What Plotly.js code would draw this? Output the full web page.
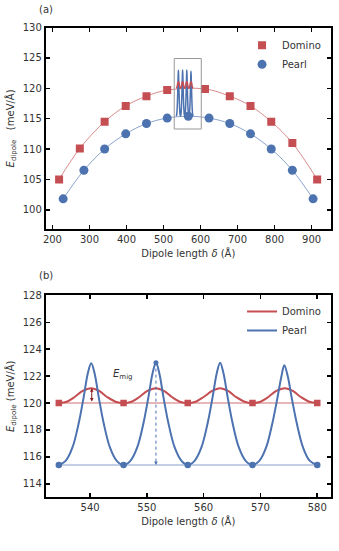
<!DOCTYPE html>
<html>
<head>
<meta charset="utf-8">
<script src="https://cdn.plot.ly/plotly-3.0.1.min.js"></script>
<style>
  html, body { margin: 0; padding: 0; background: #fff; }
  #chart { width: 339px; height: 551px; }
</style>
</head>
<body>
<div id="chart"></div>
<script>
// (a) full sweep of dipole lengths
const dominoLen = [218, 274, 341, 398, 454, 510, 612, 679, 735, 791, 848, 915];
const dominoE   = [105.0, 110.1, 114.5, 117.1, 118.7, 119.7, 119.9, 118.7, 117.1, 114.5, 111.0, 105.0];
const pearlLen  = [229, 285, 341, 398, 454, 510, 567, 623, 679, 735, 791, 848, 904];
const pearlE    = [101.8, 106.5, 110.0, 112.5, 114.2, 115.1, 115.4, 115.1, 114.2, 112.5, 110.0, 106.5, 101.8];

// (b) zoom on the migration between neighbouring minima
const minLen        = [534.5, 545.9, 557.2, 568.6, 580.0];
const dominoMinE    = [120.0, 120.0, 120.0, 120.0, 120.0];
const pearlMinE     = [115.4, 115.4, 115.4, 115.4, 115.4];

const dominoPathLen = [534.5, 535.9, 537.3, 538.7, 540.2, 541.6, 543.0, 544.5, 545.9,
                       547.3, 548.7, 550.1, 551.6, 553.0, 554.4, 555.8, 557.2,
                       558.6, 560.0, 561.5, 562.9, 564.3, 565.7, 567.2, 568.6,
                       570.0, 571.4, 572.8, 574.3, 575.7, 577.1, 578.6, 580.0];
const dominoPathE   = [120.0, 120.1, 120.45, 120.9, 121.1, 120.9, 120.45, 120.1, 120.0,
                       120.1, 120.45, 120.9, 121.1, 120.9, 120.45, 120.1, 120.0,
                       120.1, 120.45, 120.9, 121.1, 120.9, 120.45, 120.1, 120.0,
                       120.1, 120.45, 120.9, 121.1, 120.9, 120.45, 120.1, 120.0];

const pearlPathLen  = [534.5, 535.7, 536.9, 538.0, 538.9, 539.6, 540.2, 540.8, 541.5, 542.4, 543.5, 544.7, 545.9,
                       547.1, 548.3, 549.4, 550.3, 551.0, 551.6, 552.2, 552.9, 553.8, 554.9, 556.1, 557.2,
                       558.4, 559.6, 560.7, 561.6, 562.3, 562.9, 563.5, 564.2, 565.1, 566.2, 567.4, 568.6,
                       569.8, 571.0, 572.1, 573.0, 573.7, 574.2, 574.8, 575.5, 576.4, 577.5, 578.7, 580.0];
const pearlPathE    = [115.4, 115.7, 116.7, 118.5, 120.5, 122.2, 122.95, 122.2, 120.5, 118.5, 116.7, 115.7, 115.4,
                       115.7, 116.7, 118.5, 120.5, 122.2, 123.0, 122.2, 120.5, 118.5, 116.7, 115.7, 115.4,
                       115.7, 116.7, 118.5, 120.5, 122.2, 123.0, 122.2, 120.5, 118.5, 116.7, 115.7, 115.4,
                       115.7, 116.7, 118.5, 120.4, 122.0, 122.8, 122.0, 120.4, 118.5, 116.7, 115.7, 115.4];

const migDomino = [540.3, 120.0, 121.1];  // x, from, to
const migPearl  = [551.6, 123.0, 115.4];
const zoomBox   = [529, 602, 113.3, 124.9];

const RED = '#C44E52', BLUE = '#4C72B0';
const FONT = 'DejaVu Sans, sans-serif';

const traces = [
  // (a) smooth guides
  { x: dominoLen, y: dominoE, xaxis: 'x', yaxis: 'y', mode: 'lines', line: { color: 'rgba(196,78,82,0.65)', width: 1, shape: 'spline' }, showlegend: false, hoverinfo: 'skip' },
  { x: pearlLen, y: pearlE, xaxis: 'x', yaxis: 'y', mode: 'lines', line: { color: 'rgba(76,114,176,0.65)', width: 1, shape: 'spline' }, showlegend: false, hoverinfo: 'skip' },
  // (a) inset of the zoomed curves
  { x: pearlPathLen, y: pearlPathE, xaxis: 'x', yaxis: 'y', mode: 'lines', line: { color: BLUE, width: 1.5, shape: 'spline' }, showlegend: false },
  { x: dominoPathLen, y: dominoPathE, xaxis: 'x', yaxis: 'y', mode: 'lines', line: { color: RED, width: 1.5, shape: 'spline' }, showlegend: false },
  // (a) markers
  { x: dominoLen, y: dominoE, xaxis: 'x', yaxis: 'y', mode: 'markers', name: 'Domino', legend: 'legend',
    marker: { symbol: 'square', size: 8, color: RED } },
  { x: pearlLen, y: pearlE, xaxis: 'x', yaxis: 'y', mode: 'markers', name: 'Pearl', legend: 'legend',
    marker: { symbol: 'circle', size: 9, color: BLUE } },

  // (b) baselines through the minima
  { x: minLen, y: dominoMinE, xaxis: 'x2', yaxis: 'y2', mode: 'lines', line: { color: 'rgba(196,78,82,0.55)', width: 1.5 }, showlegend: false },
  { x: minLen, y: pearlMinE, xaxis: 'x2', yaxis: 'y2', mode: 'lines', line: { color: 'rgba(76,114,176,0.45)', width: 1.5 }, showlegend: false },
  // (b) energy paths
  { x: dominoPathLen, y: dominoPathE, xaxis: 'x2', yaxis: 'y2', mode: 'lines', name: 'Domino', legend: 'legend2',
    line: { color: RED, width: 2, shape: 'spline' } },
  { x: pearlPathLen, y: pearlPathE, xaxis: 'x2', yaxis: 'y2', mode: 'lines', name: 'Pearl', legend: 'legend2',
    line: { color: BLUE, width: 2, shape: 'spline' } },
  // (b) minima markers
  { x: minLen, y: dominoMinE, xaxis: 'x2', yaxis: 'y2', mode: 'markers', marker: { symbol: 'square', size: 6.5, color: RED }, showlegend: false },
  { x: minLen, y: pearlMinE, xaxis: 'x2', yaxis: 'y2', mode: 'markers', marker: { symbol: 'circle', size: 6.5, color: BLUE }, showlegend: false },
  // (b) dotted migration barrier for pearl
  { x: [migPearl[0], migPearl[0]], y: [migPearl[1], migPearl[2] + 0.3], xaxis: 'x2', yaxis: 'y2', mode: 'lines',
    line: { color: BLUE, width: 1, dash: 'dot' }, showlegend: false },
  { x: [migPearl[0]], y: [migPearl[1]], xaxis: 'x2', yaxis: 'y2', mode: 'markers', marker: { color: BLUE, size: 5 }, showlegend: false }
];

function axis(domain, range, dtick, anchor, title) {
  return {
    domain: domain, range: range, dtick: dtick, anchor: anchor,
    showline: true, linecolor: '#000', linewidth: 2, mirror: 'ticks',
    ticks: 'inside', ticklen: 4, tickwidth: 1.5, tickcolor: '#000',
    showgrid: false, zeroline: false,
    tickfont: { family: FONT, size: 10, color: '#333' },
    title: { text: title, font: { family: FONT, size: 10, color: '#333' }, standoff: 6 }
  };
}

const xTitle = 'Dipole length <i>δ</i> (Å)';

const layout = {
  width: 339, height: 551,
  margin: { l: 0, r: 0, t: 0, b: 0 },
  paper_bgcolor: '#fff', plot_bgcolor: '#fff',
  font: { family: FONT, size: 10, color: '#333' },
  xaxis:  axis([0.135, 0.976], [182, 952], 100, 'y', xTitle),
  yaxis:  axis([0.584, 0.950], [96.8, 130], 5, 'x', '<i>E</i><sub>dipole</sub>&nbsp;&nbsp;&nbsp;(meV/Å)'),
  xaxis2: axis([0.135, 0.976], [532.2, 582.4], 10, 'y2', xTitle),
  yaxis2: axis([0.0975, 0.464], [113, 128], 2, 'x2', '<i>E</i><sub>dipole</sub> (meV/Å)'),
  legend: { x: 0.714, y: 0.944, xanchor: 'left', yanchor: 'top', bgcolor: 'rgba(0,0,0,0)',
            font: { family: FONT, size: 10, color: '#333' }, tracegroupgap: 0 },
  legend2: { x: 0.714, y: 0.461, xanchor: 'left', yanchor: 'top', bgcolor: 'rgba(0,0,0,0)',
             font: { family: FONT, size: 10, color: '#333' }, tracegroupgap: 0 },
  shapes: [
    { type: 'rect', xref: 'x', yref: 'y', x0: zoomBox[0], x1: zoomBox[1], y0: zoomBox[2], y1: zoomBox[3],
      line: { color: '#999', width: 1 } }
  ],
  annotations: [
    { text: '(a)', xref: 'paper', yref: 'paper', x: 0.11, y: 1 - 10 / 551, xanchor: 'left', yanchor: 'middle',
      showarrow: false, font: { family: FONT, size: 10, color: '#333' } },
    { text: '(b)', xref: 'paper', yref: 'paper', x: 0.11, y: 1 - 275 / 551, xanchor: 'left', yanchor: 'middle',
      showarrow: false, font: { family: FONT, size: 10, color: '#333' } },
    { text: '<i>E</i><sub>mig</sub>', xref: 'x2', yref: 'y2', x: 545.8, y: 122.1, showarrow: false,
      font: { family: FONT, size: 10, color: '#333' } },
    // red double arrow
    { xref: 'x2', yref: 'y2', axref: 'x2', ayref: 'y2', x: migDomino[0], y: migDomino[2], ax: migDomino[0], ay: migDomino[1],
      showarrow: true, arrowside: 'end+start', arrowhead: 2, arrowsize: 0.7, arrowwidth: 1, arrowcolor: '#8B1A1A',
      standoff: 0, startstandoff: 0, text: '' },
    // blue arrow head at the bottom of the dotted line
    { xref: 'x2', yref: 'y2', axref: 'x2', ayref: 'y2', x: migPearl[0], y: migPearl[2], ax: migPearl[0], ay: migPearl[2] + 0.4,
      showarrow: true, arrowhead: 2, arrowsize: 0.7, arrowwidth: 1, arrowcolor: BLUE, standoff: 0, text: '' }
  ]
};

Plotly.newPlot('chart', traces, layout, { staticPlot: true, displayModeBar: false });
</script>
</body>
</html>
